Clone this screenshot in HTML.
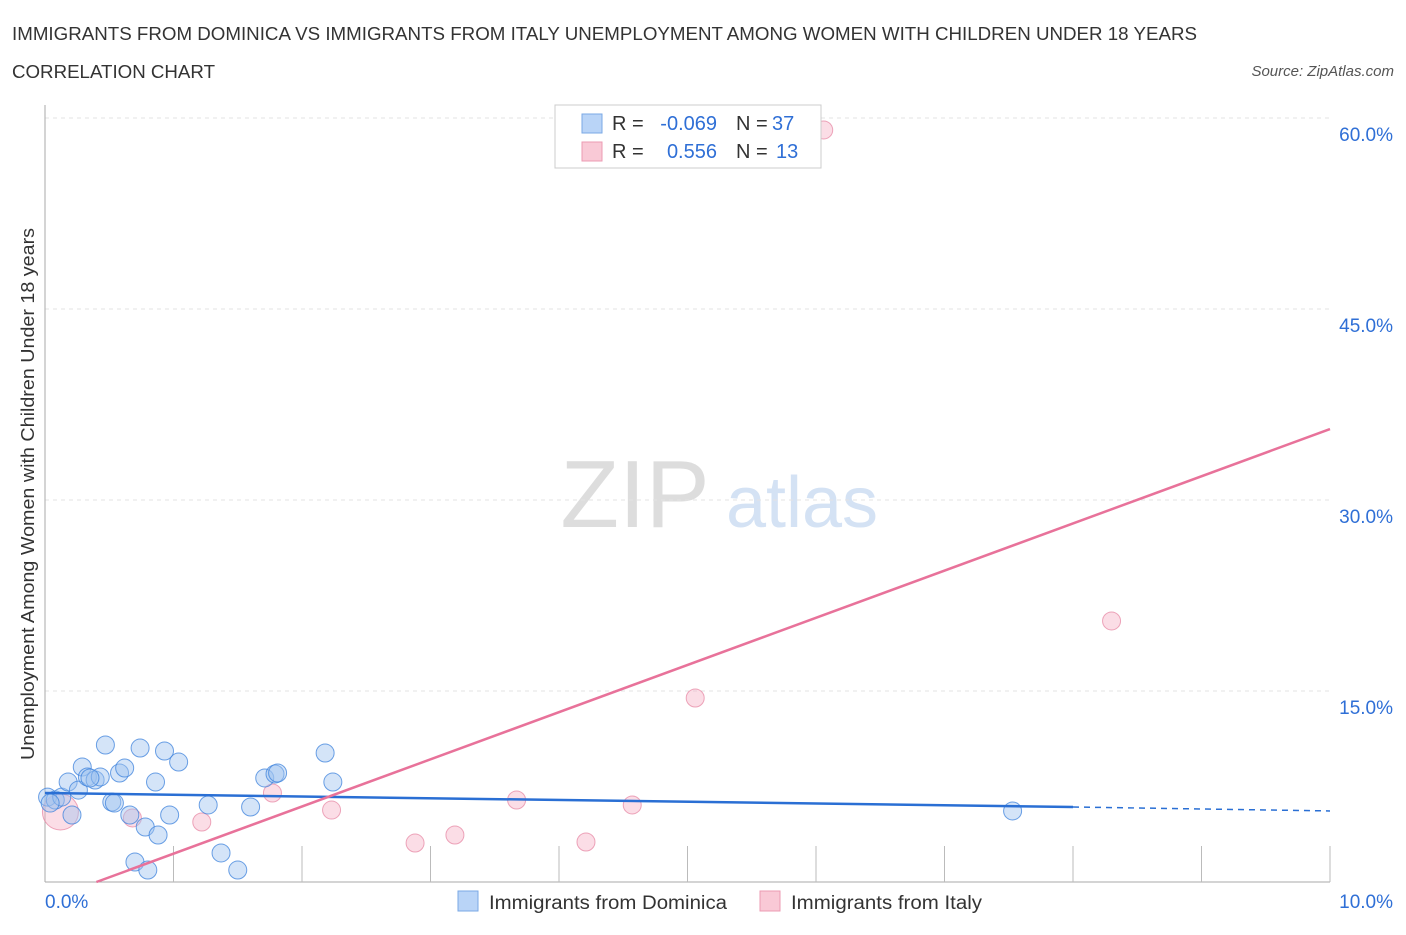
<!DOCTYPE html>
<html><head><meta charset="utf-8"><style>
body{margin:0;background:#fff;font-family:"Liberation Sans",sans-serif;}
svg text{font-family:"Liberation Sans",sans-serif;}
</style></head><body>
<svg id="chart" width="1406" height="930">
<text x="12" y="40" font-size="18.5" fill="#333" textLength="1185" lengthAdjust="spacingAndGlyphs">IMMIGRANTS FROM DOMINICA VS IMMIGRANTS FROM ITALY UNEMPLOYMENT AMONG WOMEN WITH CHILDREN UNDER 18 YEARS</text>
<text x="12" y="78" font-size="18.5" fill="#333" textLength="203" lengthAdjust="spacingAndGlyphs">CORRELATION CHART</text>
<text x="1394" y="76" font-size="15" fill="#555" font-style="italic" text-anchor="end">Source: ZipAtlas.com</text>
<text x="34" y="494" font-size="18" fill="#333" text-anchor="middle" textLength="532" lengthAdjust="spacingAndGlyphs" transform="rotate(-90 34 494)">Unemployment Among Women with Children Under 18 years</text>
<g>
<text x="635" y="527" font-size="96" fill="#ddd" text-anchor="middle" font-family="Liberation Serif">ZIP</text>
<text x="802" y="527" font-size="72" fill="#d4e2f4" text-anchor="middle">atlas</text>
</g>
<g id="grid"></g><g id="axes"></g><g id="marks"></g>
<g>
<rect x="555" y="105" width="266" height="63" fill="#fff" stroke="#ccc"/>
<rect x="582" y="114" width="20" height="19" fill="#b9d4f7" stroke="#7aa8e6"/>
<rect x="582" y="142" width="20" height="19" fill="#f9c9d6" stroke="#ec9bb3"/>
<text x="612" y="130" font-size="20" fill="#333">R =</text>
<text x="717" y="130" font-size="20" fill="#2f6fd6" text-anchor="end">-0.069</text>
<text x="736" y="130" font-size="20" fill="#333">N =</text>
<text x="772" y="130" font-size="20" fill="#2f6fd6">37</text>
<text x="612" y="158" font-size="20" fill="#333">R =</text>
<text x="717" y="158" font-size="20" fill="#2f6fd6" text-anchor="end">0.556</text>
<text x="736" y="158" font-size="20" fill="#333">N =</text>
<text x="776" y="158" font-size="20" fill="#2f6fd6">13</text>
</g>
<g>
<rect x="458" y="891" width="20" height="20" fill="#b9d4f7" stroke="#7aa8e6"/>
<text x="489" y="909" font-size="19" fill="#333" textLength="238" lengthAdjust="spacingAndGlyphs">Immigrants from Dominica</text>
<rect x="760" y="891" width="20" height="20" fill="#f9c9d6" stroke="#ec9bb3"/>
<text x="791" y="909" font-size="19" fill="#333" textLength="191" lengthAdjust="spacingAndGlyphs">Immigrants from Italy</text>
</g>
</svg>
<script>
const yTicks=[15,30,45,60];
const yTickLabels=["15.0%","30.0%","45.0%","60.0%"];
const xTickLabels=["0.0%","10.0%"];
const blueX=[0.02,0.08,0.13,0.21,0.18,0.29,0.26,0.33,0.39,0.43,0.47,0.52,0.54,0.58,0.62,0.66,0.70,0.74,0.78,0.80,0.86,0.88,0.93,0.97,1.04,1.27,1.37,1.50,1.60,1.71,1.79,1.81,2.18,2.24,7.53,0.04,0.35];
const blueY=[6.67,6.44,6.67,5.26,7.85,9.03,7.22,8.25,8.01,8.25,10.76,6.28,6.2,8.56,8.95,5.26,1.57,10.52,4.32,0.94,7.85,3.69,10.29,5.26,9.42,6.05,2.28,0.94,5.89,8.17,8.48,8.56,10.13,7.85,5.58,6.2,8.17];
const pinkX=[0.12,0.68,1.22,1.77,2.23,2.88,3.19,3.67,4.21,4.57,5.06,6.06,8.30];
const pinkY=[5.5,5.03,4.71,6.99,5.65,3.06,3.69,6.44,3.14,6.05,14.45,59.06,20.5];
const pinkR=[18,9,9,9,9,9,9,9,9,9,9,9,9];
const blueTrend=[6.99,5.89,5.58];
const pinkTrend=[0.4,0,10,35.57];
const X=v=>45+v*128.5, Y=v=>882-v*191/15;
const NS="http://www.w3.org/2000/svg";
function mk(p,t,a){const e=document.createElementNS(NS,t);for(const k in a)e.setAttribute(k,a[k]);document.getElementById(p).appendChild(e);return e;}
yTicks.forEach((t,i)=>{
 const g=mk('grid','line',{x1:45,x2:1330,y1:Y(t),y2:Y(t),stroke:'#e3e3e3','stroke-dasharray':'4,4'});
 
 
 const l=mk('axes','text',{x:1393,y:Y(t)+23,'font-size':19,fill:'#2f6fd6','text-anchor':'end'});l.textContent=yTickLabels[i];
 
 
});
let ax=mk('axes','line',{x1:45,x2:45,y1:105,y2:882,stroke:'#aaa'});


ax=mk('axes','line',{x1:45,x2:1330,y1:882,y2:882,stroke:'#aaa'});


for(let i=1;i<=10;i++){const t=mk('axes','line',{x1:X(i),x2:X(i),y1:846,y2:882,stroke:'#bbb'});
 
 }
[[0,'start',45],[10,'end',1393]].forEach((d,i)=>{const l=mk('axes','text',{x:i?d[2]:X(0),y:908,'font-size':19,fill:'#2f6fd6','text-anchor':d[1]});l.textContent=xTickLabels[i];
 
 });
pinkX.forEach((x,i)=>{const c=mk('marks','circle',{cx:X(x),cy:Y(pinkY[i]),r:pinkR[i],fill:'rgba(245,170,192,0.4)',stroke:'rgba(230,130,160,0.7)'});
 
 });
blueX.forEach((x,i)=>{const c=mk('marks','circle',{cx:X(x),cy:Y(blueY[i]),r:9,fill:'rgba(160,196,240,0.45)',stroke:'rgba(60,130,220,0.75)'});
 
 });
let l=mk('marks','line',{x1:X(0),y1:Y(blueTrend[0]),x2:X(8),y2:Y(blueTrend[1]),stroke:'#2a6fd4','stroke-width':2.5});


l=mk('marks','line',{x1:X(8),y1:Y(blueTrend[1]),x2:X(10),y2:Y(blueTrend[2]),stroke:'#2a6fd4','stroke-width':1.5,'stroke-dasharray':'6,5'});


l=mk('marks','line',{x1:X(pinkTrend[0]),y1:Y(pinkTrend[1]),x2:X(pinkTrend[2]),y2:Y(pinkTrend[3]),stroke:'#e8729a','stroke-width':2.5});


</script>
</body></html>
